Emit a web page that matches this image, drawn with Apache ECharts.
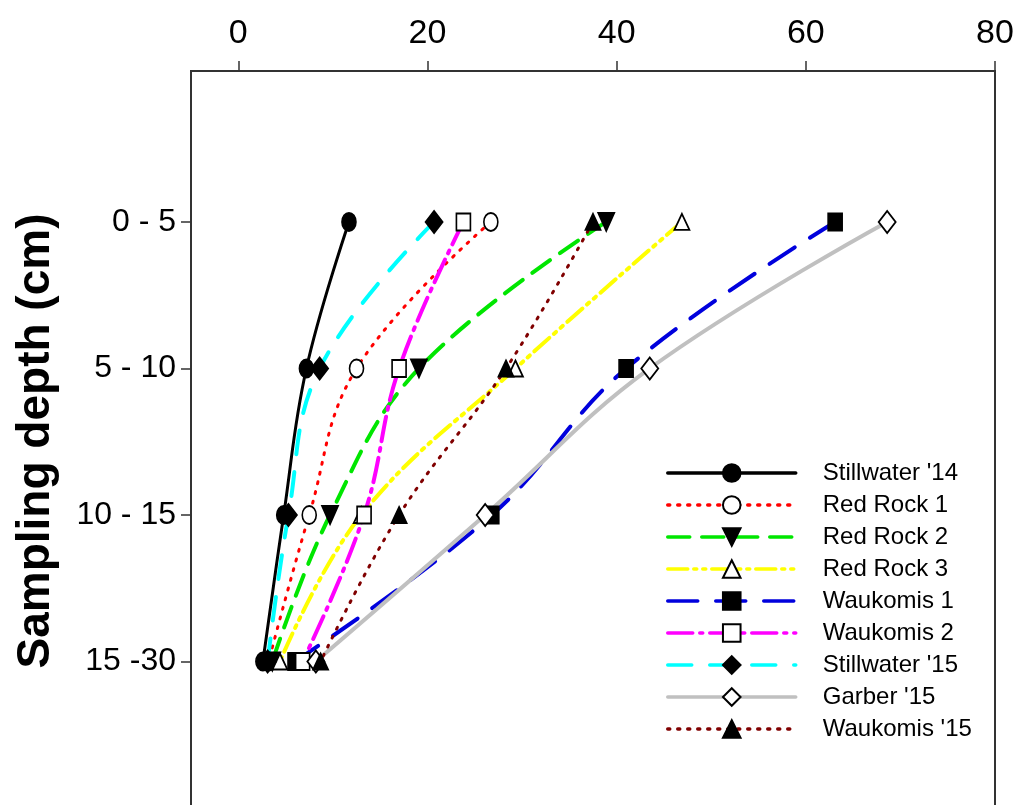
<!DOCTYPE html>
<html>
<head>
<meta charset="utf-8">
<script src="https://cdn.jsdelivr.net/npm/echarts@6/dist/echarts.min.js"></script>
<style>
html,body{margin:0;padding:0;background:#fff;}
#c{width:1016px;height:805px;}
</style>
</head>
<body>
<div id="c"></div>
<script>
// ---- data ----
const depthLabels = ['0 - 5', '5 - 10', '10 - 15', '15 -30'];
const depthPos = [1, 2, 3, 4];
const xTicks = [0, 20, 40, 60, 80];

const seriesNames = ["Stillwater '14", 'Red Rock 1', 'Red Rock 2', 'Red Rock 3', 'Waukomis 1', 'Waukomis 2', "Stillwater '15", "Garber '15", "Waukomis '15"];
const stillwater14 = [11.7, 7.2, 4.8, 2.6];
const redRock1     = [26.7, 12.5, 7.5, 3.2];
const redRock2     = [38.9, 19.1, 9.7, 3.6];
const redRock3     = [46.9, 29.3, 13.0, 4.4];
const waukomis1    = [63.1, 41.0, 26.8, 6.0];
const waukomis2    = [23.8, 17.0, 13.3, 6.8];
const stillwater15 = [20.7, 8.6, 5.3, 3.1];
const garber15     = [68.6, 43.5, 26.1, 8.2];
const waukomis15   = [37.5, 28.3, 17.0, 8.7];
const allValues = [stillwater14, redRock1, redRock2, redRock3, waukomis1, waukomis2, stillwater15, garber15, waukomis15];

// ---- styles ----
const DOWN_TRI = 'path://M0,0 L10,0 L5,10 Z';
const styles = [
  {color: '#000000', type: 'solid', width: 3, symbol: 'circle', size: [14, 18], fill: '#000'},
  {color: '#ff0000', type: [2, 8], width: 3, symbol: 'circle', size: [14, 18], fill: '#fff'},
  {color: '#00e600', type: [22, 12], width: 4, symbol: DOWN_TRI, size: [16, 18], fill: '#000'},
  {color: '#ffff00', type: [20, 6, 3, 6, 3, 6], width: 4, symbol: 'triangle', size: [15, 16], fill: '#fff'},
  {color: '#0000dd', type: [30, 18], width: 4, symbol: 'rect', size: [14, 17], fill: '#000'},
  {color: '#ff00ff', type: [25, 7, 3, 7], width: 4, symbol: 'rect', size: [14, 17], fill: '#fff'},
  {color: '#00ffff', type: [24, 18], width: 4, symbol: 'diamond', size: [17, 22], fill: '#000'},
  {color: '#c0c0c0', type: 'solid', width: 4, symbol: 'diamond', size: [17, 22], fill: '#fff'},
  {color: '#800000', type: [2, 8], width: 3, symbol: 'triangle', size: [15, 16], fill: '#000'}
];

const FONT = "'Liberation Sans', Arial, sans-serif";

const series = seriesNames.map((name, i) => {
  const s = styles[i];
  return {
    name: name,
    type: 'line',
    smooth: 0.4,
    data: allValues[i].map((v, j) => [v, depthPos[j]]),
    symbol: s.symbol,
    symbolSize: s.size,
    showAllSymbol: true,
    lineStyle: {color: s.color, width: s.width, type: s.type, cap: 'round'},
    itemStyle: {color: s.fill, borderColor: '#000', borderWidth: 1.8},
    emphasis: {disabled: true},
    z: 2
  };
});

const chart = echarts.init(document.getElementById('c'), null, {renderer: 'canvas'});
chart.setOption({
  animation: false,
  backgroundColor: '#fff',
  grid: {
    left: 191, top: 71, width: 804, height: 740,
    outerBoundsMode: 'none', containLabel: false,
    show: true, borderColor: '#333', borderWidth: 2, backgroundColor: 'transparent'
  },
  xAxis: {
    type: 'value', position: 'top', min: -5, max: 80,
    axisLine: {show: true, onZero: false, lineStyle: {color: '#333', width: 2}},
    axisTick: {show: true, inside: false, length: 10, customValues: xTicks, lineStyle: {color: '#333', width: 1.5}},
    axisLabel: {customValues: xTicks, fontSize: 34, fontFamily: FONT, color: '#000', margin: 20},
    splitLine: {show: false}
  },
  yAxis: {
    type: 'value', inverse: true, min: -0.03, max: 5.02,
    name: 'Sampling depth (cm)', nameLocation: 'middle', nameGap: 132, nameRotate: 90,
    nameTextStyle: {fontSize: 46, fontWeight: 'bold', fontFamily: FONT, color: '#000'},
    axisLine: {show: true, onZero: false, lineStyle: {color: '#333', width: 2}},
    axisTick: {show: true, length: 10, customValues: depthPos, lineStyle: {color: '#333', width: 1.5}},
    axisLabel: {
      customValues: depthPos, fontSize: 32, fontFamily: FONT, color: '#000', margin: 15,
      formatter: function (v) { const k = depthPos.indexOf(v); return k >= 0 ? depthLabels[k] : ''; }
    },
    splitLine: {show: false}
  },
  legend: {
    orient: 'vertical', left: 664, top: 457,
    itemWidth: 128, itemHeight: 22, itemGap: 8,
    lineStyle: {width: 3.5},
    backgroundColor: '#fff', padding: [4, 6, 4, 2],
    textStyle: {fontSize: 24, fontFamily: FONT, color: '#000', padding: [0, 0, 0, 22]},
    data: seriesNames
  },
  series: series
});
</script>
</body>
</html>
